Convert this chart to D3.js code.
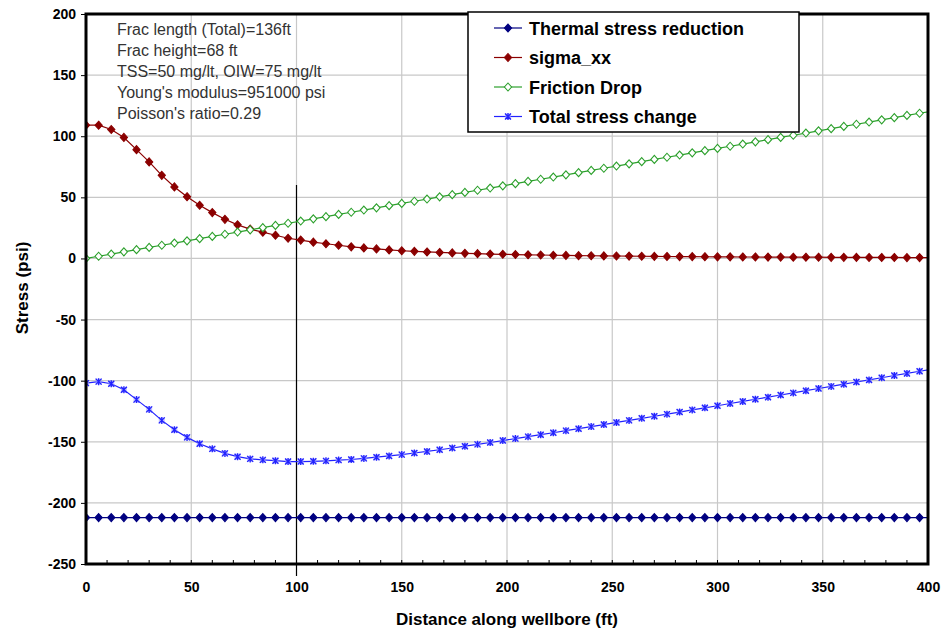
<!DOCTYPE html>
<html><head><meta charset="utf-8">
<script src="https://cdn.jsdelivr.net/npm/d3@7"></script>
<style>body{margin:0;background:#fff}svg{display:block}text{font-family:"Liberation Sans",Arial,sans-serif}</style>
</head><body>
<script>
const distance = [0,6,12,18,24,30,36,42,48,54,60,66,72,78,84,90,96,102,108,114,120,126,132,138,144,150,156,162,168,174,180,186,192,198,204,210,216,222,228,234,240,246,252,258,264,270,276,282,288,294,300,306,312,318,324,330,336,342,348,354,360,366,372,378,384,390,396,402];
const thermal = [-212,-212,-212,-212,-212,-212,-212,-212,-212,-212,-212,-212,-212,-212,-212,-212,-212,-212,-212,-212,-212,-212,-212,-212,-212,-212,-212,-212,-212,-212,-212,-212,-212,-212,-212,-212,-212,-212,-212,-212,-212,-212,-212,-212,-212,-212,-212,-212,-212,-212,-212,-212,-212,-212,-212,-212,-212,-212,-212,-212,-212,-212,-212,-212,-212,-212,-212,-212];
const sigmaXX = [109,109,105.5,99,89,79,68,58.5,50.5,43.5,37.5,32,27.5,24,21.5,19,16.5,15,13.3,12,10.8,9.5,8.6,7.8,7,6.3,5.8,5.3,4.9,4.5,4.2,3.9,3.6,3.4,3.2,3,2.8,2.6,2.5,2.3,2.2,2.1,2,1.9,1.8,1.7,1.6,1.5,1.5,1.4,1.3,1.3,1.2,1.2,1.1,1.1,1,1,1,0.9,0.9,0.9,0.8,0.8,0.8,0.7,0.7,0.7];
const friction = [0,1.8,3.6,5.4,7.2,9,10.8,12.6,14.4,16.2,18,19.8,21.6,23.4,25.2,27,28.8,30.6,32.4,34.2,36,37.8,39.6,41.4,43.2,45,46.8,48.6,50.4,52.2,54,55.8,57.6,59.4,61.2,63,64.8,66.6,68.4,70.2,72,73.8,75.6,77.4,79.2,81,82.8,84.6,86.4,88.2,90,91.8,93.6,95.4,97.2,99,100.8,102.6,104.4,106.2,108,109.8,111.6,113.4,115.2,117,118.8,120.6];
const total = [-102,-100.8,-102.5,-107.5,-115.5,-123.5,-132.5,-140.2,-146.4,-151.6,-155.8,-159.5,-162.2,-164,-164.8,-165.5,-166.2,-166.2,-166,-165.6,-165,-164.5,-163.6,-162.6,-161.6,-160.5,-159.2,-157.9,-156.5,-155.1,-153.6,-152.1,-150.6,-149,-147.4,-145.8,-144.2,-142.6,-140.9,-139.3,-137.6,-135.9,-134.2,-132.5,-130.8,-129.1,-127.4,-125.7,-123.9,-122.2,-120.5,-118.7,-117,-115.2,-113.5,-111.7,-110,-108.2,-106.4,-104.7,-102.9,-101.1,-99.4,-97.6,-95.8,-94.1,-92.3,-90.5];
const xTicks = [0,50,100,150,200,250,300,350,400];
const yTicks = [200,150,100,50,0,-50,-100,-150,-200,-250];
const seriesNames = ["Thermal stress reduction","sigma_xx","Friction Drop","Total stress change"];
const annotations = ["Frac length (Total)=136ft","Frac height=68 ft","TSS=50 mg/lt, OIW=75 mg/lt","Young's modulus=951000 psi","Poisson's ratio=0.29"];
const markerLine = [100, 60];

const W=944,H=631, L=86, R=928, T=14, B=564;
const svg=d3.select("body").append("svg").attr("width",W).attr("height",H);
const x=d3.scaleLinear().domain([0,400]).range([L,R]);
const y=d3.scaleLinear().domain([-250,200]).range([B,T]);

// grid
const g=svg.append("g");
g.selectAll(".gx").data(xTicks).join("line").attr("x1",d=>x(d)).attr("x2",d=>x(d)).attr("y1",T).attr("y2",B).attr("stroke","#c8c8c8").attr("stroke-width",1.2);
g.selectAll(".gy").data(yTicks).join("line").attr("x1",L).attr("x2",R).attr("y1",d=>y(d)).attr("y2",d=>y(d)).attr("stroke","#c8c8c8").attr("stroke-width",1.2);

// axes
const fmt=d=>String(d);
const yAxis=d3.axisLeft(y).tickValues(yTicks).tickFormat(fmt).tickSize(5).tickPadding(5);
const ya=svg.append("g").attr("transform",`translate(${L},0)`).call(yAxis);
ya.select(".domain").remove();
ya.selectAll("text").attr("font-size",14).attr("font-weight","bold").attr("fill","#000");
ya.selectAll("line").attr("stroke","#000");
const xAxis=d3.axisBottom(x).tickValues(xTicks).tickFormat(fmt).tickSize(0).tickPadding(18);
const xa=svg.append("g").attr("transform",`translate(0,${B})`).call(xAxis);
xa.select(".domain").remove();
xa.selectAll("text").attr("font-size",14).attr("font-weight","bold").attr("fill","#000");
// minor inward ticks
const minor=d3.range(0,401,10);
svg.append("g").selectAll("line").data(minor).join("line").attr("x1",d=>x(d)).attr("x2",d=>x(d)).attr("y1",B).attr("y2",B-4).attr("stroke","#000");

// annotation line at 100
svg.append("line").attr("x1",x(markerLine[0])).attr("x2",x(markerLine[0])).attr("y1",y(markerLine[1])).attr("y2",B+12).attr("stroke","#000").attr("stroke-width",1.2);

// clip
svg.append("clipPath").attr("id","clip").append("rect").attr("x",L).attr("y",T).attr("width",R-L).attr("height",B-T);
const plot=svg.append("g").attr("clip-path","url(#clip)");

const series=[
 {name:seriesNames[0],vals:thermal,color:"#000080",marker:"diamond",fill:"#000080"},
 {name:seriesNames[1],vals:sigmaXX,color:"#8b0000",marker:"diamond",fill:"#8b0000"},
 {name:seriesNames[2],vals:friction,color:"#2ca02c",marker:"diamond",fill:"#ffffff"},
 {name:seriesNames[3],vals:total,color:"#2222ff",marker:"star",fill:"#2222ff"}
];
const line=d3.line().x(d=>x(d[0])).y(d=>y(d[1]));
function drawMarker(sel,s,cx,cy){
  if(s.marker==="diamond"){
    sel.append("path").attr("d",`M${cx},${cy-4}L${cx+3.6},${cy}L${cx},${cy+4}L${cx-3.6},${cy}Z`).attr("fill",s.fill).attr("stroke",s.color).attr("stroke-width",1.1);
  } else {
    sel.append("rect").attr("x",cx-3).attr("y",cy-3).attr("width",6).attr("height",6).attr("fill","#9999ff").attr("opacity",0.6);
    sel.append("path").attr("d",`M${cx-3},${cy-3}L${cx+3},${cy+3}M${cx+3},${cy-3}L${cx-3},${cy+3}M${cx},${cy-3.5}L${cx},${cy+3.5}`).attr("stroke",s.color).attr("stroke-width",1.3);
  }
}
series.forEach(s=>{
  const pts=distance.map((d,i)=>[d,s.vals[i]]);
  plot.append("path").attr("d",line(pts)).attr("fill","none").attr("stroke",s.color).attr("stroke-width",1.2);
  const mg=plot.append("g");
  pts.forEach(p=>drawMarker(mg,s,x(p[0]),y(p[1])));
});

// frame
svg.append("rect").attr("x",L).attr("y",T).attr("width",R-L).attr("height",B-T).attr("fill","none").attr("stroke","#000").attr("stroke-width",3);

// annotation text
svg.append("g").selectAll("text").data(annotations).join("text").attr("x",117).attr("y",(d,i)=>35+i*21).attr("font-size",16).attr("fill","#333").text(d=>d);

// legend
const lg=svg.append("g");
lg.append("rect").attr("x",468).attr("y",12).attr("width",331).attr("height",120).attr("fill","#fff").attr("stroke","#000").attr("stroke-width",1.5);
series.forEach((s,i)=>{
  const cy=28+i*29.5;
  lg.append("line").attr("x1",494).attr("x2",522).attr("y1",cy).attr("y2",cy).attr("stroke",s.color).attr("stroke-width",1.2);
  drawMarker(lg,s,508,cy);
  lg.append("text").attr("x",529).attr("y",cy+6.5).attr("font-size",18).attr("font-weight","bold").attr("fill","#000").text(s.name);
});

// axis titles
svg.append("text").attr("x",507).attr("y",625).attr("text-anchor","middle").attr("font-size",17).attr("font-weight","bold").text("Distance along wellbore (ft)");
svg.append("text").attr("transform","translate(28,288) rotate(-90)").attr("text-anchor","middle").attr("font-size",17).attr("font-weight","bold").text("Stress (psi)");
</script>
</body></html>
